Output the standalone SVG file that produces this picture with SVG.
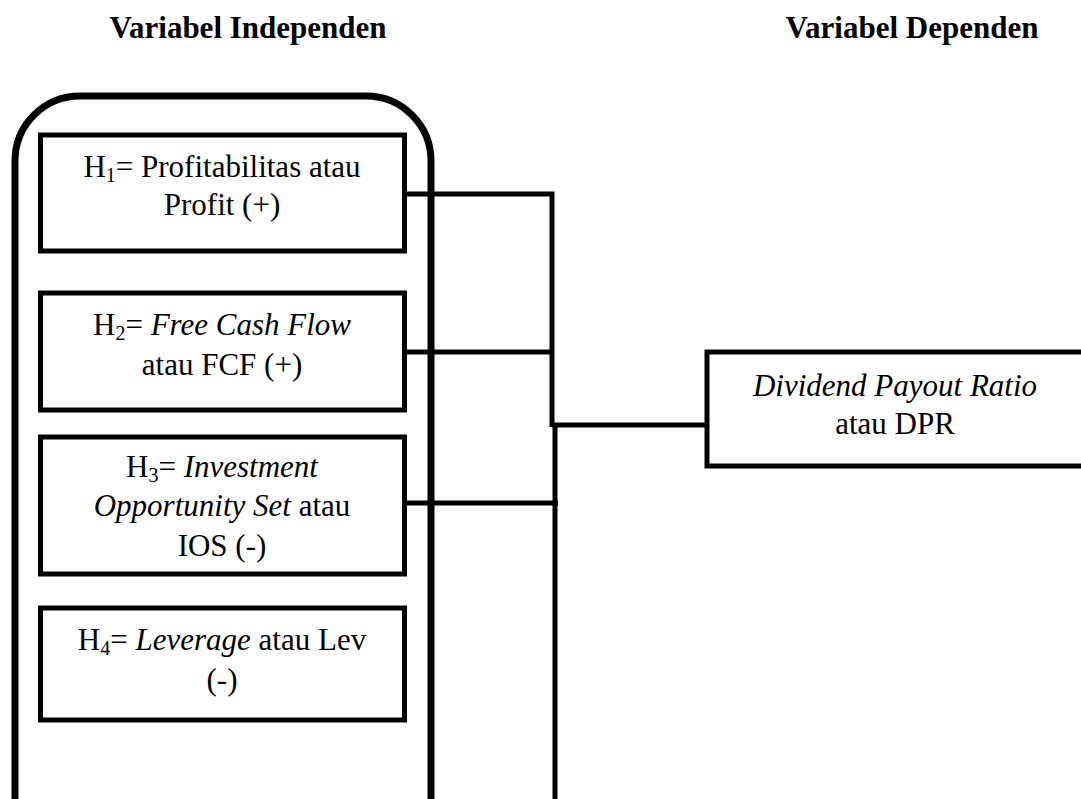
<svg xmlns="http://www.w3.org/2000/svg" width="1081" height="799" viewBox="0 0 1081 799">
  <style>
    .title { font-family: "Liberation Serif", "Times New Roman", serif; font-weight: bold; font-size: 31px; fill: #000; text-anchor: middle; }
    .lbl { font-family: "Liberation Serif", "Times New Roman", serif; font-size: 31px; fill: #000; text-anchor: middle; }
    .it { font-style: italic; }
    .sub { font-size: 20px; }
    .box { fill: #fff; stroke: #000; stroke-width: 5; }
    .frame { fill: none; stroke: #000; stroke-width: 7; }
    .wire { fill: none; stroke: #000; stroke-width: 5; stroke-linecap: butt; stroke-linejoin: miter; }
  </style>
  <rect width="1081" height="799" fill="#fff"/>

  <!-- column headings -->
  <text class="title" x="248" y="38">Variabel Independen</text>
  <text class="title" x="912" y="38">Variabel Dependen</text>

  <!-- rounded frame around the independent variables -->
  <path id="frame" class="frame" d="M 15 810 V 161 A 65 65 0 0 1 80 96 H 366 A 65 65 0 0 1 431 161 V 810"/>

  <!-- connectors -->
  <g id="connectors">
    <path class="wire" d="M 404 194 H 552 V 427"/>
    <path class="wire" d="M 555 423 V 810"/>
    <path class="wire" d="M 404 352 H 552"/>
    <path class="wire" d="M 404 503 H 558"/>
    <path class="wire" d="M 552 425 H 707"/>
  </g>

  <g id="h1">
    <rect class="box" x="40.5" y="135" width="364" height="116"/>
    <text class="lbl" x="222" y="177">H<tspan class="sub" dy="5">1</tspan><tspan dy="-5">= Profitabilitas atau</tspan></text>
    <text class="lbl" x="222" y="215">Profit (+)</text>
  </g>

  <g id="h2">
    <rect class="box" x="40.5" y="293" width="364" height="117"/>
    <text class="lbl" x="222" y="335">H<tspan class="sub" dy="5">2</tspan><tspan dy="-5">= </tspan><tspan class="it">Free Cash Flow</tspan></text>
    <text class="lbl" x="222" y="375">atau FCF (+)</text>
  </g>

  <g id="h3">
    <rect class="box" x="40.5" y="437" width="364" height="137"/>
    <text class="lbl" x="222" y="477">H<tspan class="sub" dy="5">3</tspan><tspan dy="-5">= </tspan><tspan class="it">Investment</tspan></text>
    <text class="lbl" x="222" y="516"><tspan class="it">Opportunity Set</tspan> atau</text>
    <text class="lbl" x="222" y="556">IOS (-)</text>
  </g>

  <g id="h4">
    <rect class="box" x="40.5" y="608" width="364" height="112"/>
    <text class="lbl" x="222" y="650">H<tspan class="sub" dy="5">4</tspan><tspan dy="-5">= </tspan><tspan class="it">Leverage</tspan> atau Lev</text>
    <text class="lbl" x="222" y="690">(-)</text>
  </g>

  <g id="dpr">
    <rect class="box" x="707" y="352" width="400" height="114"/>
    <text class="lbl" x="895" y="396"><tspan class="it">Dividend Payout Ratio</tspan></text>
    <text class="lbl" x="895" y="434">atau DPR</text>
  </g>
</svg>
